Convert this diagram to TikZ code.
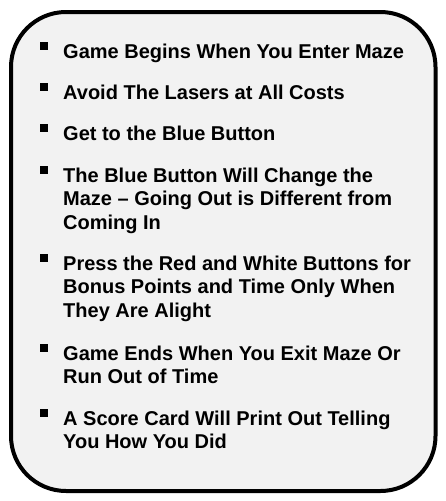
\documentclass[tikz,border=0pt]{standalone}
\usepackage{fontspec}
\setmainfont{Liberation Sans}
\usepackage{tikz}
\usetikzlibrary{positioning,calc}
\tikzstyle{panel}=[fill=black!5, draw=black, line width=4pt, rounded corners=55pt]
\tikzstyle{rule}=[anchor=base west, inner sep=0pt, align=left, font=\bfseries\fontsize{20}{23.5}\selectfont]
\tikzstyle{sqmark}=[fill=black, minimum size=8pt, inner sep=0pt]
\newcommand{\ruleItem}[4]{
	\node[rule] (#1) at (63,{#2+23.5*(#3-1)}) {#4};
	\node[sqmark] (#1mark) at ($(#1.base west)+(-19,{-12-23.5*(#3-1)})$) {};
}

\begin{document}
\begin{tikzpicture}[x=1pt,y=-1pt]
	\useasboundingbox (0,0) rectangle (446,501);
	\draw[panel] (11,12) rectangle (435.5,491);
	\ruleItem{start}{58}{1}{Game Begins When You Enter Maze}
	\ruleItem{lasers}{99}{1}{Avoid The Lasers at All Costs}
	\ruleItem{blue}{140}{1}{Get to the Blue Button}
	\ruleItem{change}{182}{3}{The Blue Button Will Change the\\Maze -- Going Out is Different from\\Coming In}
	\ruleItem{bonus}{270}{3}{Press the Red and White Buttons for\\Bonus Points and Time Only When\\They Are Alight}
	\ruleItem{ends}{360}{2}{Game Ends When You Exit Maze Or\\Run Out of Time}
	\ruleItem{card}{425}{2}{A Score Card Will Print Out Telling\\You How You Did}
\end{tikzpicture}
\end{document}
